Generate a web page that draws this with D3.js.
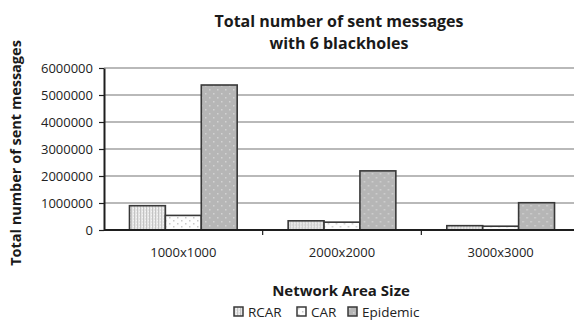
<!DOCTYPE html>
<html>
<head>
<meta charset="utf-8">
<script src="https://cdn.jsdelivr.net/npm/d3@7"></script>
<style>
  html, body { margin: 0; padding: 0; background: #fff; }
  svg { display: block; font-family: "Open Sans", "Liberation Sans", sans-serif; }
</style>
</head>
<body>
<svg id="chart" width="574" height="320"></svg>
<script>
// Sent-message totals per network area size, for each routing protocol
const categories = ["1000x1000", "2000x2000", "3000x3000"];
const seriesNames = ["RCAR", "CAR", "Epidemic"];
const rcarValues = [900000, 340000, 160000];
const carValues = [540000, 290000, 140000];
const epidemicValues = [5370000, 2190000, 1010000];
const yTicks = [0, 1000000, 2000000, 3000000, 4000000, 5000000, 6000000];

const series = [
  { name: seriesNames[0], values: rcarValues, fill: "url(#pat-rcar)" },
  { name: seriesNames[1], values: carValues, fill: "url(#pat-car)" },
  { name: seriesNames[2], values: epidemicValues, fill: "url(#pat-epi)" }
];

const svg = d3.select("#chart");
const W = 574;

// Hatch / dot fills
const defs = svg.append("defs");
const pr = defs.append("pattern").attr("id", "pat-rcar")
  .attr("patternUnits", "userSpaceOnUse").attr("width", 3).attr("height", 3);
pr.append("rect").attr("width", 3).attr("height", 3).attr("fill", "#e4e4e4");
pr.append("rect").attr("x", 0).attr("width", 1).attr("height", 3).attr("fill", "#c4c4c4");
pr.append("rect").attr("x", 2).attr("y", 1).attr("width", 1).attr("height", 1).attr("fill", "#f4f4f4");

const pc = defs.append("pattern").attr("id", "pat-car")
  .attr("patternUnits", "userSpaceOnUse").attr("width", 8).attr("height", 6);
pc.append("rect").attr("width", 8).attr("height", 6).attr("fill", "#fdfdfd");
pc.append("rect").attr("x", 1).attr("y", 1).attr("width", 1.5).attr("height", 1.5).attr("fill", "#c8c8c8");
pc.append("rect").attr("x", 5).attr("y", 4).attr("width", 1.5).attr("height", 1.5).attr("fill", "#c8c8c8");

const pe = defs.append("pattern").attr("id", "pat-epi")
  .attr("patternUnits", "userSpaceOnUse").attr("width", 8).attr("height", 8);
pe.append("rect").attr("width", 8).attr("height", 8).attr("fill", "#b6b6b6");
pe.append("rect").attr("x", 1).attr("y", 1).attr("width", 1.5).attr("height", 1.5).attr("fill", "#d2d2d2");
pe.append("rect").attr("x", 5).attr("y", 5).attr("width", 1.5).attr("height", 1.5).attr("fill", "#d2d2d2");

const x0 = d3.scaleBand().domain(categories).range([104, 580]).paddingInner(0).paddingOuter(0);
const x1 = d3.scaleBand().domain(seriesNames).range([0, x0.bandwidth()]).paddingInner(0).paddingOuter(0.71);
const y = d3.scaleLinear().domain([0, 6000000]).range([230, 68]);

// Gridlines
svg.append("g").selectAll("line").data(yTicks.filter(d => d > 0)).join("line")
  .attr("x1", 104).attr("x2", W).attr("y1", d => y(d)).attr("y2", d => y(d))
  .attr("stroke", "#a2a2a2").attr("stroke-width", 1.5);

// Bars
const groups = svg.append("g").selectAll("g").data(categories).join("g")
  .attr("transform", d => `translate(${x0(d)},0)`);
groups.selectAll("rect")
  .data((c, i) => series.map(s => ({ name: s.name, value: s.values[i], fill: s.fill })))
  .join("rect")
  .attr("x", d => x1(d.name))
  .attr("width", x1.bandwidth())
  .attr("y", d => y(d.value))
  .attr("height", d => y(0) - y(d.value))
  .attr("fill", d => d.fill)
  .attr("stroke", "#383838").attr("stroke-width", 1.6);

// Y axis
const yAxis = svg.append("g").attr("transform", "translate(104,0)")
  .call(d3.axisLeft(y).tickValues(yTicks).tickFormat(d3.format("d")).tickSizeInner(5).tickSizeOuter(0).tickPadding(6));
yAxis.select(".domain").attr("stroke", "#1e1e1e").attr("stroke-width", 2);
yAxis.selectAll(".tick line").attr("stroke", "#1e1e1e").attr("stroke-width", 1.2);
yAxis.selectAll("text").attr("font-size", 13).attr("fill", "#222")
  .attr("font-family", "'Open Sans', sans-serif");

// X axis
const xAxis = svg.append("g").attr("transform", "translate(0,230)")
  .call(d3.axisBottom(x0).tickSize(0).tickPadding(18));
xAxis.select(".domain").attr("stroke", "#1e1e1e").attr("stroke-width", 2)
  .attr("d", `M104,0H${W}`);
xAxis.selectAll("text").attr("font-size", 13).attr("fill", "#222")
  .attr("font-family", "'Open Sans', sans-serif");
// Category separator ticks
svg.append("g").selectAll("line").data(categories.slice(1)).join("line")
  .attr("x1", d => x0(d)).attr("x2", d => x0(d)).attr("y1", 230).attr("y2", 235)
  .attr("stroke", "#1e1e1e").attr("stroke-width", 1.2);

// Titles
const title = svg.append("text").attr("x", 339).attr("text-anchor", "middle")
  .attr("font-weight", "bold").attr("font-size", 16).attr("fill", "#1a1a1a");
title.append("tspan").attr("x", 339).attr("y", 27).text("Total number of sent messages");
title.append("tspan").attr("x", 339).attr("y", 49).text("with 6 blackholes");

svg.append("text").attr("transform", "translate(21,153) rotate(-90)")
  .attr("text-anchor", "middle").attr("font-weight", "bold").attr("font-size", 14.5)
  .attr("fill", "#1a1a1a").text("Total number of sent messages");

svg.append("text").attr("x", 341).attr("y", 296).attr("text-anchor", "middle")
  .attr("font-weight", "bold").attr("font-size", 15).attr("fill", "#1a1a1a")
  .text("Network Area Size");

// Legend
const legendX = [234, 297, 348];
const legend = svg.append("g").selectAll("g").data(series).join("g")
  .attr("transform", (d, i) => `translate(${legendX[i]},307)`);
legend.append("rect").attr("width", 9).attr("height", 9)
  .attr("fill", d => d.fill).attr("stroke", "#383838").attr("stroke-width", 1.5);
legend.append("text").attr("x", 14).attr("y", 9.5).attr("font-size", 13.5).attr("fill", "#222")
  .text(d => d.name);
</script>
</body>
</html>
